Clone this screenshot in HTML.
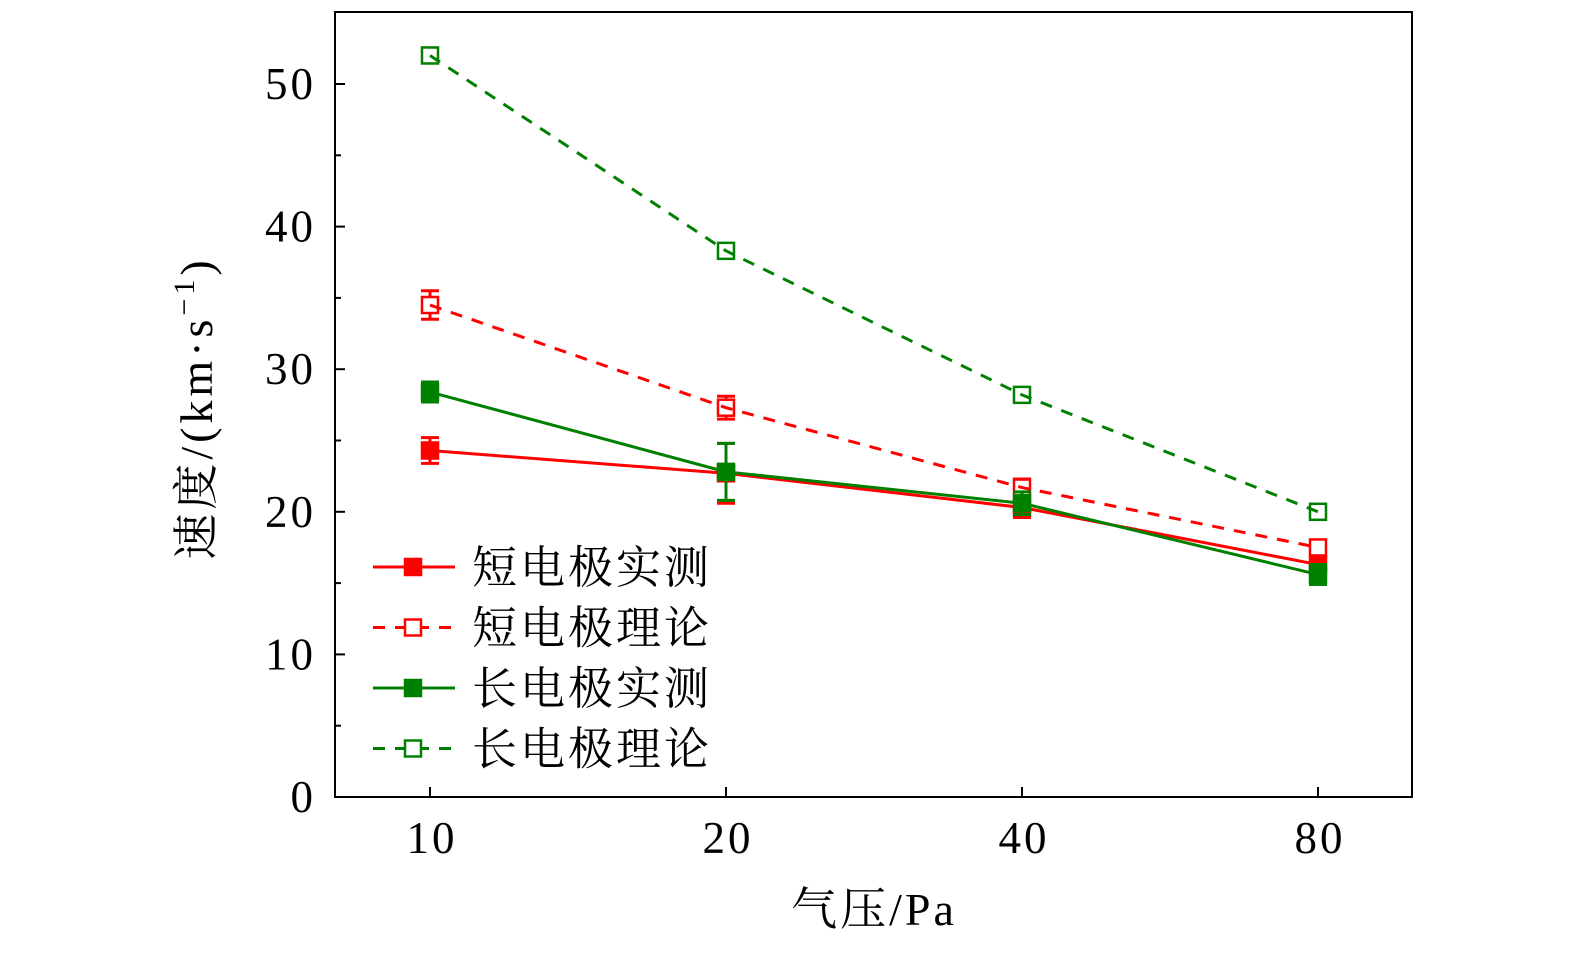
<!DOCTYPE html>
<html><head><meta charset="utf-8"><style>
html,body{margin:0;background:#fff;overflow:hidden;width:1575px;height:955px}
svg{display:block}
text{font-family:"Liberation Serif","Noto Serif CJK SC",serif;fill:#000}
</style></head><body>
<svg id="chart" width="1575" height="955" xmlns="http://www.w3.org/2000/svg">
<rect x="335" y="12" width="1077" height="785" fill="none" stroke="#000" stroke-width="2"/>
<g id="axes"></g><g id="series"></g><g id="legend"></g>
<text x="874" y="925" font-size="46" letter-spacing="3" text-anchor="middle">气压/Pa</text>
<text transform="translate(212,408) rotate(-90)" font-size="46" letter-spacing="4" text-anchor="middle">速度/(km·s<tspan dy="-18" font-size="30">−1</tspan><tspan dy="18">)</tspan></text>
</svg>
<script>
const categories=["10","20","40","80"];
const yTicks=[0,10,20,30,40,50];
const shortMeas=[24.3,22.7,20.3,16.3];
const shortMeasErr=[0.9,2.1,0.7,0.6];
const shortTheo=[34.5,27.3,21.7,17.5];
const shortTheoErr=[1.0,0.8,0.6,0.4];
const longMeas=[28.4,22.8,20.6,15.6];
const longMeasErr=[0.7,2.0,0.8,0.7];
const longTheo=[52.0,38.3,28.2,20.0];
const longTheoErr=[0,0,0,0];
const legendLabels=["短电极实测","短电极理论","长电极实测","长电极理论"];
const NS="http://www.w3.org/2000/svg";
const X=i=>430+i*296, Y=v=>797-v*14.26;
function mk(p,tag,a){const e=document.createElementNS(NS,tag);for(const k in a)e.setAttribute(k,a[k]);p.appendChild(e);return e;}
const ax=document.getElementById('axes');
yTicks.forEach(v=>{
 const t=mk(ax,'line',{x1:335,x2:345,y1:Y(v),y2:Y(v),stroke:'#000','stroke-width':2});
 
 
 const l=mk(ax,'text',{x:316,y:Y(v)+15,'font-size':45,'letter-spacing':3,'text-anchor':'end'});l.textContent=v;
 
 
 if(v<50){const m=mk(ax,'line',{x1:335,x2:341,y1:Y(v+5),y2:Y(v+5),stroke:'#000','stroke-width':2});
 
 }
});
categories.forEach((c,i)=>{
 const t=mk(ax,'line',{x1:X(i),x2:X(i),y1:797,y2:787,stroke:'#000','stroke-width':2});
 
 
 const l=mk(ax,'text',{x:X(i)+2,y:853,'font-size':45,'letter-spacing':3,'text-anchor':'middle'});l.textContent=c;
 
 
});
const S=document.getElementById('series');
const defs=[[shortMeas,shortMeasErr,'#f00',false,'short-measured'],[shortTheo,shortTheoErr,'#f00',true,'short-theory'],[longMeas,longMeasErr,'#008000',false,'long-measured'],[longTheo,longTheoErr,'#008000',true,'long-theory']];
defs.forEach(([vals,err,col,open,name])=>{
 const g=mk(S,'g',{});
 
 
 vals.forEach((v,i)=>{ if(err[i]>0){
  const e=mk(g,'path',{d:`M${X(i)},${Y(v+err[i])}V${Y(v-err[i])}M${X(i)-9},${Y(v+err[i])}h18M${X(i)-9},${Y(v-err[i])}h18`,stroke:col,'stroke-width':3,fill:'none'});
  
  }
 });
 vals.forEach((v,i)=>{
  const r=mk(g,'rect',{x:X(i)-8,y:Y(v)-8,width:16,height:16,fill:open?'#fff':col,stroke:col,'stroke-width':2.5});
  
  
 });
 const p=mk(g,'polyline',{points:vals.map((v,i)=>X(i)+','+Y(v)).join(' '),fill:'none',stroke:col,'stroke-width':3,'stroke-dasharray':open?'12 10':''});
 
 
});
const L=document.getElementById('legend');
defs.forEach(([v,e,col,open,name],k)=>{
 const y=567+k*60.5;
 const g=mk(L,'g',{});
 
 
 mk(g,'line',{x1:373,x2:455,y1:y,y2:y,stroke:col,'stroke-width':3,'stroke-dasharray':open?'12 10':''});
 mk(g,'rect',{x:405,y:y-8,width:16,height:16,fill:open?'#fff':col,stroke:col,'stroke-width':2.5});
 const t=mk(g,'text',{x:472,y:y+16,'font-size':45,'letter-spacing':3});t.textContent=legendLabels[k];
});
</script>
</body></html>
